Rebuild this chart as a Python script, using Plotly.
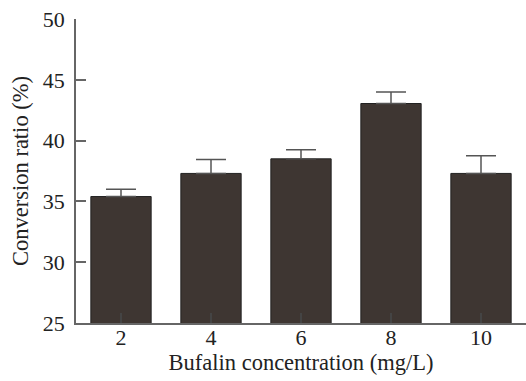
import plotly.graph_objects as go

categories = ["2", "4", "6", "8", "10"]
values = [35.4, 37.3, 38.5, 43.05, 37.3]
errors = [0.6, 1.15, 0.75, 0.95, 1.45]
y_ticks = [25, 30, 35, 40, 45, 50]

fig = go.Figure()
fig.add_trace(go.Bar(
    x=categories, y=values,
    width=0.67,
    marker=dict(color="#3e3632", line=dict(color="#222", width=1)),
    error_y=dict(type="data", array=errors, symmetric=False, arrayminus=[0]*len(errors),
                 color="#555", thickness=1.5, width=15),
))

font = "Liberation Serif"
fig.update_layout(
    width=526, height=381,
    margin=dict(l=76, r=0, t=19, b=58),
    paper_bgcolor="white", plot_bgcolor="white",
    showlegend=False,
    font=dict(family=font, size=22, color="#222"),
    bargap=0.33,
)
fig.update_xaxes(
    type="category", range=[-0.5, 4.5],
    showline=True, linecolor="#666", linewidth=1.5,
    ticks="inside", ticklen=10, tickcolor="#444", tickwidth=1.5,
    ticklabelstandoff=-6,
    title=dict(text="Bufalin concentration (mg/L)", font=dict(family=font, size=22.5), standoff=4),
    tickfont=dict(family=font, size=22),
    showgrid=False, zeroline=False,
)
fig.update_yaxes(
    range=[25, 50], tickvals=y_ticks,
    showline=True, linecolor="#666", linewidth=1.5,
    ticks="inside", ticklen=10, tickcolor="#666", tickwidth=1.5,
    ticklabelstandoff=5,
    tickfont=dict(family=font, size=22),
    title=dict(text="Conversion ratio (%)", font=dict(family=font, size=22.5), standoff=8),
    showgrid=False, zeroline=False,
)
fig.write_html("out.html")
